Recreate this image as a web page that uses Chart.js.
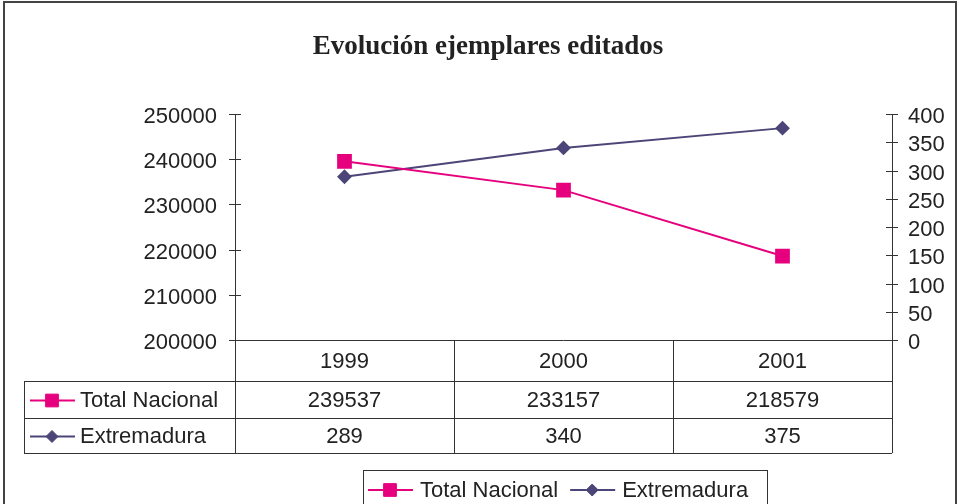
<!DOCTYPE html>
<html>
<head>
<meta charset="utf-8">
<title>Evolución ejemplares editados</title>
<script src="https://cdn.jsdelivr.net/npm/chart.js@4.4.1/dist/chart.umd.min.js"></script>
<style>
  html, body { margin: 0; padding: 0; background: #fff; }
  #wrap { width: 959px; height: 504px; }
</style>
</head>
<body>
<div id="wrap"><canvas id="chart" width="959" height="504"></canvas></div>
<script>
const years = ['1999', '2000', '2001'];
const totalNacional = [239537, 233157, 218579];
const extremadura = [289, 340, 375];
const seriesNames = ['Total Nacional', 'Extremadura'];

const PINK = '#e6007e';
const NAVY = '#4b4578';
const INK = '#222222';
const LINE = '#333333';
const SANS = "'Liberation Sans', Arial, sans-serif";
const SERIF = "'Liberation Serif', 'Times New Roman', serif";
const FONT_SIZE = 22;

// table rows under the plot: header (years) + one row per series
const rowBottoms = [381, 418, 453];
const tableLeft = 24;

const frame = {
    id: 'frame',
    afterDraw(chart) {
        const ctx = chart.ctx;
        const area = chart.chartArea;
        const xs = chart.scales.x;
        const colW = (area.right - area.left) / years.length;
        ctx.save();

        // outer border
        ctx.strokeStyle = '#444';
        ctx.lineWidth = 2;
        ctx.strokeRect(4, 2, 952, 520);

        // title
        ctx.fillStyle = INK;
        ctx.font = 'bold 27px ' + SERIF;
        ctx.textAlign = 'center';
        ctx.textBaseline = 'middle';
        ctx.fillText('Evolución ejemplares editados', 488, 47);

        // cross tick marks on both value axes
        ctx.strokeStyle = LINE;
        ctx.lineWidth = 1;
        ['y', 'y1'].forEach(id => {
            const s = chart.scales[id];
            const x = id === 'y' ? area.left : area.right;
            s.ticks.forEach((t, i) => {
                const y = Math.round(s.getPixelForTick(i)) + 0.5;
                ctx.beginPath();
                ctx.moveTo(x - 6, y);
                ctx.lineTo(x + 6, y);
                ctx.stroke();
            });
        });

        // data table grid
        const top = area.bottom;
        ctx.beginPath();
        ctx.moveTo(area.left - 6, top + 0.5);
        ctx.lineTo(area.right + 6, top + 0.5);
        rowBottoms.forEach(yb => {
            ctx.moveTo(tableLeft, yb + 0.5);
            ctx.lineTo(area.right, yb + 0.5);
        });
        for (let c = 0; c <= years.length; c++) {
            const x = Math.round(area.left + c * colW) + 0.5;
            ctx.moveTo(x, top);
            ctx.lineTo(x, rowBottoms[rowBottoms.length - 1]);
        }
        ctx.moveTo(tableLeft + 0.5, rowBottoms[0]);
        ctx.lineTo(tableLeft + 0.5, rowBottoms[rowBottoms.length - 1]);
        ctx.stroke();

        ctx.font = FONT_SIZE + 'px ' + SANS;
        ctx.fillStyle = INK;
        ctx.textAlign = 'center';
        years.forEach((yr, i) => {
            ctx.fillText(yr, xs.getPixelForValue(i), (top + rowBottoms[0]) / 2 + 1);
        });

        chart.data.datasets.forEach((ds, d) => {
            const y0 = rowBottoms[d];
            const y1 = rowBottoms[d + 1];
            const cy = (y0 + y1) / 2 + 1;
            drawKey(ctx, ds, 30, cy);
            ctx.fillStyle = INK;
            ctx.textAlign = 'left';
            ctx.fillText(ds.label, 80, cy);
            ctx.textAlign = 'center';
            ds.data.forEach((v, i) => {
                ctx.fillText(String(v), xs.getPixelForValue(i), cy);
            });
        });

        // legend box
        ctx.strokeStyle = LINE;
        ctx.lineWidth = 1;
        ctx.strokeRect(363.5, 470.5, 404, 60);
        let lx = 368;
        chart.data.datasets.forEach(ds => {
            drawKey(ctx, ds, lx, 490);
            ctx.fillStyle = INK;
            ctx.textAlign = 'left';
            ctx.fillText(ds.label, lx + 52, 491);
            lx += 52 + ctx.measureText(ds.label).width + 12;
        });
        ctx.restore();
    }
};

function drawKey(ctx, ds, x, y) {
    ctx.save();
    ctx.strokeStyle = ds.borderColor;
    ctx.lineWidth = 2;
    ctx.beginPath();
    ctx.moveTo(x, y);
    ctx.lineTo(x + 45, y);
    ctx.stroke();
    ctx.fillStyle = ds.pointBackgroundColor;
    ctx.strokeStyle = ds.pointBorderColor;
    ctx.lineWidth = 1;
    Chart.helpers.drawPoint(ctx, {
        pointStyle: ds.pointStyle,
        radius: ds.pointStyle === 'rect' ? 9 : 6,
        rotation: 0,
        borderWidth: 1
    }, x + 22, y);
    ctx.restore();
}

new Chart(document.getElementById('chart'), {
    type: 'line',
    data: {
        labels: years,
        datasets: [{
            label: seriesNames[0],
            data: totalNacional,
            yAxisID: 'y',
            borderColor: PINK,
            borderWidth: 2,
            pointStyle: 'rect',
            pointRadius: 9,
            pointBackgroundColor: PINK,
            pointBorderColor: PINK,
            tension: 0
        }, {
            label: seriesNames[1],
            data: extremadura,
            yAxisID: 'y1',
            borderColor: NAVY,
            borderWidth: 2,
            pointStyle: 'rectRot',
            pointRadius: 6,
            pointBackgroundColor: NAVY,
            pointBorderColor: NAVY,
            tension: 0
        }]
    },
    options: {
        responsive: false,
        animation: false,
        layout: { padding: { top: 114, bottom: 164, left: 0, right: 0 } },
        plugins: {
            legend: { display: false },
            title: { display: false },
            tooltip: { enabled: false }
        },
        scales: {
            x: {
                display: false,
                offset: true
            },
            y: {
                position: 'left',
                min: 200000,
                max: 250000,
                afterFit(s) { s.width = 235; },
                grid: { display: false, drawTicks: false },
                border: { display: true, color: LINE, width: 1 },
                ticks: {
                    stepSize: 10000,
                    autoSkip: false,
                    padding: 18,
                    labelOffset: 3,
                    color: INK,
                    font: { family: SANS, size: FONT_SIZE },
                    callback: v => String(v)
                }
            },
            y1: {
                position: 'right',
                min: 0,
                max: 400,
                afterFit(s) { s.width = 67; },
                grid: { display: false, drawTicks: false },
                border: { display: true, color: LINE, width: 1 },
                ticks: {
                    stepSize: 50,
                    autoSkip: false,
                    padding: 16,
                    labelOffset: 3,
                    color: INK,
                    font: { family: SANS, size: FONT_SIZE },
                    callback: v => String(v)
                }
            }
        }
    },
    plugins: [frame]
});
</script>
</body>
</html>
